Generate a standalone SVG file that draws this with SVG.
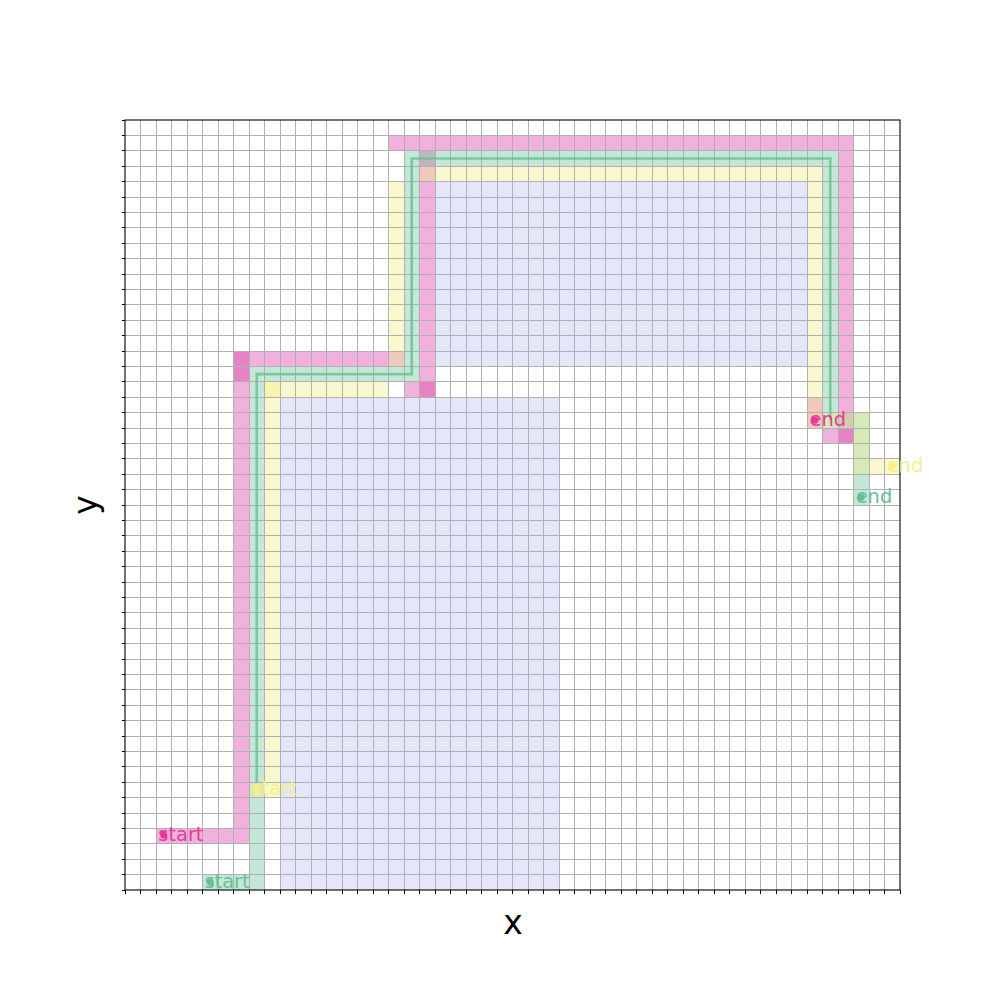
<svg xmlns="http://www.w3.org/2000/svg" width="1000" height="1000" viewBox="0 0 1000 1000">
<style>
.lav{fill:#e6e6fa}
.p{fill:#dc3ca8;fill-opacity:0.4}
.g{fill:#66c095;fill-opacity:0.38}
.y{fill:#f2ee88;fill-opacity:0.4}
.grid{stroke:#b0b0b0;stroke-width:1;fill:none;shape-rendering:crispEdges}
.tick{stroke:#000;stroke-width:1;fill:none;shape-rendering:crispEdges}
.lbl{font-family:"DejaVu Sans",sans-serif;font-size:19.4px}
.ax{font-family:"DejaVu Sans",sans-serif;font-size:33px;fill:#000}
</style>
<rect width="1000" height="1000" fill="#fff"/>
<g id="obstacles">
<rect class="lav" x="435" y="181.6" width="372" height="184.8"/>
<rect class="lav" x="280" y="397.2" width="279" height="492.8"/>
</g>
<g id="path-pink">
<rect class="p" x="156" y="828.4" width="77.5" height="15.4"/>
<rect class="p" x="233.5" y="351" width="15.5" height="492.8"/>
<rect class="p" x="233.5" y="351" width="15.5" height="30.8"/>
<rect class="p" x="249" y="351" width="155" height="15.4"/>
<rect class="p" x="404" y="381.8" width="15.5" height="15.4"/>
<rect class="p" x="419.5" y="150.8" width="15.5" height="246.4"/>
<rect class="p" x="419.5" y="381.8" width="15.5" height="15.4"/>
<rect class="p" x="388.5" y="135.4" width="465" height="15.4"/>
<rect class="p" x="838" y="150.8" width="15.5" height="292.6"/>
<rect class="p" x="838" y="428" width="15.5" height="15.4"/>
<rect class="p" x="822.5" y="428" width="15.5" height="15.4"/>
<rect class="p" x="807" y="397.2" width="15.5" height="30.8"/>
</g>
<g id="path-green">
<rect class="g" x="202.5" y="874.6" width="46.5" height="15.4"/>
<rect class="g" x="249" y="366.4" width="15.5" height="523.6"/>
<rect class="g" x="264.5" y="366.4" width="139.5" height="15.4"/>
<rect class="g" x="404" y="150.8" width="15.5" height="231"/>
<rect class="g" x="419.5" y="150.8" width="403" height="15.4"/>
<rect class="g" x="822.5" y="150.8" width="15.5" height="277.2"/>
<rect class="g" x="838" y="412.6" width="31" height="15.4"/>
<rect class="g" x="853.5" y="428" width="15.5" height="77"/>
</g>
<g id="path-yellow">
<rect class="y" x="249" y="782.2" width="15.5" height="15.4"/>
<rect class="y" x="264.5" y="381.8" width="15.5" height="415.8"/>
<rect class="y" x="264.5" y="381.8" width="15.5" height="15.4"/>
<rect class="y" x="280" y="381.8" width="108.5" height="15.4"/>
<rect class="y" x="388.5" y="181.6" width="15.5" height="184.8"/>
<rect class="y" x="419.5" y="166.2" width="403" height="15.4"/>
<rect class="y" x="807" y="181.6" width="15.5" height="246.4"/>
<rect class="y" x="822.5" y="412.6" width="46.5" height="15.4"/>
<rect class="y" x="853.5" y="428" width="15.5" height="46.2"/>
<rect class="y" x="869" y="458.8" width="31" height="15.4"/>
</g>
<g id="grid">
<path class="grid" d="M140.5 120V890M156 120V890M171.5 120V890M187 120V890M202.5 120V890M218 120V890M233.5 120V890M249 120V890M264.5 120V890M280 120V890M295.5 120V890M311 120V890M326.5 120V890M342 120V890M357.5 120V890M373 120V890M388.5 120V890M404 120V890M419.5 120V890M435 120V890M450.5 120V890M466 120V890M481.5 120V890M497 120V890M512.5 120V890M528 120V890M543.5 120V890M559 120V890M574.5 120V890M590 120V890M605.5 120V890M621 120V890M636.5 120V890M652 120V890M667.5 120V890M683 120V890M698.5 120V890M714 120V890M729.5 120V890M745 120V890M760.5 120V890M776 120V890M791.5 120V890M807 120V890M822.5 120V890M838 120V890M853.5 120V890M869 120V890M884.5 120V890"/>
<path class="grid" d="M125 135.4H900M125 150.8H900M125 166.2H900M125 181.6H900M125 197H900M125 212.4H900M125 227.8H900M125 243.2H900M125 258.6H900M125 274H900M125 289.4H900M125 304.8H900M125 320.2H900M125 335.6H900M125 351H900M125 366.4H900M125 381.8H900M125 397.2H900M125 412.6H900M125 428H900M125 443.4H900M125 458.8H900M125 474.2H900M125 489.6H900M125 505H900M125 520.4H900M125 535.8H900M125 551.2H900M125 566.6H900M125 582H900M125 597.4H900M125 612.8H900M125 628.2H900M125 643.6H900M125 659H900M125 674.4H900M125 689.8H900M125 705.2H900M125 720.6H900M125 736H900M125 751.4H900M125 766.8H900M125 782.2H900M125 797.6H900M125 813H900M125 828.4H900M125 843.8H900M125 859.2H900M125 874.6H900"/>
</g>
<g id="connectors">
<polyline points="256.75,782 256.75,374.1 411.75,374.1 411.75,158.5 830.25,158.5 830.25,420" fill="none" stroke="#66c095" stroke-opacity="0.8" stroke-width="2.6" stroke-linejoin="miter"/>
</g>
<g id="axes">
<rect x="125" y="120" width="775" height="770" fill="none" stroke="#000" stroke-width="1.1"/>
<path class="tick" d="M125 890v3.5M140.5 890v3.5M156 890v3.5M171.5 890v3.5M187 890v3.5M202.5 890v3.5M218 890v3.5M233.5 890v3.5M249 890v3.5M264.5 890v3.5M280 890v3.5M295.5 890v3.5M311 890v3.5M326.5 890v3.5M342 890v3.5M357.5 890v3.5M373 890v3.5M388.5 890v3.5M404 890v3.5M419.5 890v3.5M435 890v3.5M450.5 890v3.5M466 890v3.5M481.5 890v3.5M497 890v3.5M512.5 890v3.5M528 890v3.5M543.5 890v3.5M559 890v3.5M574.5 890v3.5M590 890v3.5M605.5 890v3.5M621 890v3.5M636.5 890v3.5M652 890v3.5M667.5 890v3.5M683 890v3.5M698.5 890v3.5M714 890v3.5M729.5 890v3.5M745 890v3.5M760.5 890v3.5M776 890v3.5M791.5 890v3.5M807 890v3.5M822.5 890v3.5M838 890v3.5M853.5 890v3.5M869 890v3.5M884.5 890v3.5M900 890v3.5"/>
<path class="tick" d="M125 120h-3.5M125 135.4h-3.5M125 150.8h-3.5M125 166.2h-3.5M125 181.6h-3.5M125 197h-3.5M125 212.4h-3.5M125 227.8h-3.5M125 243.2h-3.5M125 258.6h-3.5M125 274h-3.5M125 289.4h-3.5M125 304.8h-3.5M125 320.2h-3.5M125 335.6h-3.5M125 351h-3.5M125 366.4h-3.5M125 381.8h-3.5M125 397.2h-3.5M125 412.6h-3.5M125 428h-3.5M125 443.4h-3.5M125 458.8h-3.5M125 474.2h-3.5M125 489.6h-3.5M125 505h-3.5M125 520.4h-3.5M125 535.8h-3.5M125 551.2h-3.5M125 566.6h-3.5M125 582h-3.5M125 597.4h-3.5M125 612.8h-3.5M125 628.2h-3.5M125 643.6h-3.5M125 659h-3.5M125 674.4h-3.5M125 689.8h-3.5M125 705.2h-3.5M125 720.6h-3.5M125 736h-3.5M125 751.4h-3.5M125 766.8h-3.5M125 782.2h-3.5M125 797.6h-3.5M125 813h-3.5M125 828.4h-3.5M125 843.8h-3.5M125 859.2h-3.5M125 874.6h-3.5M125 890h-3.5"/>
<text class="ax" x="513" y="934" text-anchor="middle">x</text>
<text class="ax" transform="translate(97,505) rotate(-90)" text-anchor="middle">y</text>
</g>
<g id="marker-pink-start">
<circle cx="163.75" cy="835.1" r="3.5" fill="#e6399b"/>
<text class="lbl" x="158.3" y="840.6" fill="#e6399b">start</text>
</g>
<g id="marker-green-start">
<circle cx="210.25" cy="882.3" r="3.5" fill="#66c095"/>
<text class="lbl" x="204.5" y="887.8" fill="#66c095">start</text>
</g>
<g id="marker-yellow-start">
<circle cx="256.75" cy="789.9" r="3.5" fill="#f5ef8a"/>
<text class="lbl" x="251.5" y="795.4" fill="#f5ef8a">start</text>
</g>
<g id="marker-pink-end">
<circle cx="814.75" cy="420.3" r="3.5" fill="#e6399b"/>
<text class="lbl" x="809.5" y="425.8" fill="#e6399b">end</text>
</g>
<g id="marker-yellow-end">
<circle cx="892.25" cy="466.5" r="3.5" fill="#f5ef8a"/>
<text class="lbl" x="886.7" y="472" fill="#f5ef8a">end</text>
</g>
<g id="marker-green-end">
<circle cx="861.25" cy="497.3" r="3.5" fill="#66c095"/>
<text class="lbl" x="855.7" y="502.8" fill="#66c095">end</text>
</g>
</svg>
